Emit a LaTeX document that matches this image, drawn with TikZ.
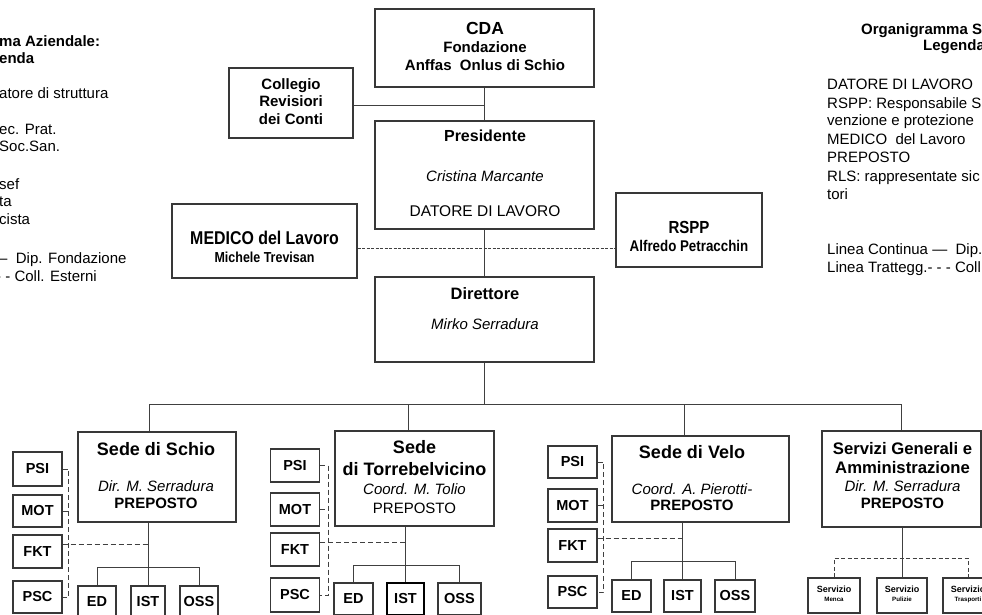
\documentclass[tikz,border=0pt]{standalone}
\usepackage{fontspec}
\setmainfont{Liberation Sans}
\newfontfamily\condsans[FakeStretch=0.86]{Liberation Sans}
\newcommand\fs[1]{\fontsize{#1}{#1}\selectfont}
\tikzset{
  box/.style={draw=black!78, line width=1.1pt, rectangle, inner sep=0pt, text=black},
  conn/.style={draw=black!75, line width=1pt},
  dsh/.style={conn, dash pattern=on 5pt off 3pt},
  finedsh/.style={conn, line width=0.8pt, dash pattern=on 3pt off 1.5pt},
  tx/.style={inner sep=0pt, anchor=mid, yshift=-3.5pt, text=black},
  lt/.style={inner sep=0pt, anchor=mid west, yshift=-3.5pt, text=black, font=\fs{15}},
  small/.style={box, minimum width=49pt, font=\fs{14.5}\bfseries},
  sub/.style={box, minimum height=32pt, font=\fs{14.5}\bfseries},
  serv/.style={box, minimum width=51pt, minimum height=35pt},
}
\begin{document}
\begin{tikzpicture}[x=1pt,y=-1pt]
\useasboundingbox (0,0) rectangle (982,615);
\clip (0,0) rectangle (982,615);
\fill[white] (0,0) rectangle (982,615);

% ---------- left legend (cut) ----------
\node[lt, font=\fs{15}\bfseries] (la) at (-1,40) {ma Aziendale:};
\node[lt, font=\fs{15}\bfseries] (lb) at (-1,57) {enda};
\node[lt] (lc) at (-1,92) {atore di struttura};
\node[lt] (ld) at (-1,128) {ec. Prat.};
\node[lt] (le) at (-1,145) {Soc.San.};
\node[lt] (lf) at (-1,183) {sef};
\node[lt] (lg) at (-1,200) {ta};
\node[lt] (lh) at (-1,218) {cista};
\node[lt] (li) at (-1,257) {–\ \ Dip. Fondazione};
\node[lt] (lj) at (-4,275) {- - Coll. Esterni};

% ---------- right legend (cut) ----------
\node[lt, font=\fs{15}\bfseries] (ra) at (861,28) {Organigramma S};
\node[lt, font=\fs{15}\bfseries] (rb) at (923,44) {Legenda};
\node[lt] (rc) at (827,83) {DATORE DI LAVORO};
\node[lt] (rd) at (827,102) {RSPP: Responsabile S};
\node[lt] (re) at (827,119) {venzione e protezione};
\node[lt] (rf) at (827,138) {MEDICO\ \ del Lavoro};
\node[lt] (rg) at (827,156) {PREPOSTO};
\node[lt] (rh) at (827,175) {RLS: rappresentate sic};
\node[lt] (ri) at (827,193) {tori};
\node[lt] (rj) at (827,248) {Linea Continua —\ \ Dip.};
\node[lt] (rk) at (827,266) {Linea Trattegg.- - - Coll};

% ---------- top boxes ----------
\node[box, minimum width=219pt, minimum height=78pt] (cda) at (484.5,48) {};
\node[box, minimum width=124pt, minimum height=70pt] (coll) at (291,103) {};
\node[box, minimum width=219pt, minimum height=108pt] (pres) at (484.5,175) {};
\node[box, minimum width=185pt, minimum height=74pt] (med) at (264.5,241) {};
\node[box, minimum width=146pt, minimum height=74pt] (rspp) at (689,230) {};
\node[box, minimum width=219pt, minimum height=85pt] (dir) at (484.5,319.5) {};

\node[tx, font=\fs{17.5}\bfseries] (cdaA) at (485,28) {CDA};
\node[tx, font=\fs{15}\bfseries] (cdaB) at (485,46) {Fondazione};
\node[tx, font=\fs{15}\bfseries] (cdaC) at (485,64) {Anffas\ \ Onlus di Schio};

\node[tx, font=\fs{15}\bfseries] (collA) at (291,83) {Collegio};
\node[tx, font=\fs{15}\bfseries] (collB) at (291,100) {Revisiori};
\node[tx, font=\fs{15}\bfseries] (collC) at (291,118) {dei Conti};

\node[tx, font=\fs{16}\bfseries] (presA) at (485,135) {Presidente};
\node[tx, font=\fs{15}\itshape] (presB) at (485,175) {Cristina Marcante};
\node[tx, font=\fs{15.5}] (presC) at (485,210) {DATORE DI LAVORO};

\node[tx, font=\condsans\fs{18.5}\bfseries] (medA) at (264.5,238) {MEDICO del Lavoro};
\node[tx, font=\condsans\fs{14.5}\bfseries] (medB) at (264.5,256) {Michele Trevisan};

\node[tx, font=\condsans\fs{17.5}\bfseries] (rsppA) at (689,227) {RSPP};
\node[tx, font=\condsans\fs{15.5}\bfseries] (rsppB) at (689,245) {Alfredo Petracchin};

\node[tx, font=\fs{16.5}\bfseries] (dirA) at (485,293) {Direttore};
\node[tx, font=\fs{15}\itshape] (dirB) at (485,323) {Mirko Serradura};

% ---------- top connectors ----------
\draw[conn] (cda) -- (pres);
\draw[conn] ([yshift=-3pt]coll.east) -- ([yshift=-3pt]coll.east -| cda.south);
\draw[conn] (pres) -- (dir);
\draw[finedsh] ([yshift=-7pt]med.east) -- ([yshift=-7pt]med.east -| rspp.west);

% ---------- sedi ----------
\node[box, minimum width=158pt, minimum height=90pt] (schio) at (157,477) {};
\node[box, minimum width=159pt, minimum height=95pt] (torre) at (414.5,478.5) {};
\node[box, minimum width=177pt, minimum height=86pt] (velo) at (700.5,479) {};
\node[box, minimum width=159pt, minimum height=96pt] (serv) at (901.5,479) {};

\node[tx, font=\fs{18}\bfseries] (schA) at (156,449) {Sede di Schio};
\node[tx, font=\fs{15}\itshape] (schB) at (156,485) {Dir. M. Serradura};
\node[tx, font=\fs{15}\bfseries] (schC) at (156,502) {PREPOSTO};

\node[tx, font=\fs{18}\bfseries] (torA) at (414.5,447) {Sede};
\node[tx, font=\fs{18}\bfseries] (torB) at (414.5,469) {di Torrebelvicino};
\node[tx, font=\fs{15}\itshape] (torC) at (414.5,488) {Coord. M. Tolio};
\node[tx, font=\fs{15}] (torD) at (414.5,507) {PREPOSTO};

\node[tx, font=\fs{18}\bfseries] (velA) at (692,452) {Sede di Velo};
\node[tx, font=\fs{15}\itshape] (velB) at (692,488) {Coord. A. Pierotti-};
\node[tx, font=\fs{15}\bfseries] (velC) at (692,504) {PREPOSTO};

\node[tx, font=\fs{16.7}\bfseries] (srvA) at (902.5,448) {Servizi Generali e};
\node[tx, font=\fs{16.7}\bfseries] (srvB) at (902.5,467) {Amministrazione};
\node[tx, font=\fs{15}\itshape] (srvC) at (902.5,485) {Dir. M. Serradura};
\node[tx, font=\fs{15}\bfseries] (srvD) at (902.5,502) {PREPOSTO};

% ---------- main bus ----------
\coordinate (bus) at (0,404);
\draw[conn] (dir.south) -- (dir.south |- bus);
\draw[conn] ([xshift=-8pt]schio.north) |- (serv.north |- bus) -- (serv.north);
\draw[conn] ([xshift=-6.5pt]torre.north) -- ([xshift=-6.5pt]torre.north |- bus);
\draw[conn] ([xshift=-16.5pt]velo.north) -- ([xshift=-16.5pt]velo.north |- bus);

% ---------- Schio group ----------
\node[small, minimum height=34pt] (psi1) at (37.5,469) {PSI};
\node[small, minimum height=32pt] (mot1) at (37.5,511) {MOT};
\node[small, minimum height=33pt] (fkt1) at (37.5,551.5) {FKT};
\node[small, minimum height=32pt] (psc1) at (37.5,597) {PSC};
\node[sub, minimum width=38pt] (ed1) at (97,602) {ED};
\node[sub, minimum width=34pt] (ist1) at (148,602) {IST};
\node[sub, minimum width=38pt] (oss1) at (199,602) {OSS};
\draw[conn] (schio.south -| ist1.north) -- (ist1.north);
\draw[conn] (ed1.north) -- ++(0,-18) -| (oss1.north);
\draw[dsh] (psi1.east) -- ++(6,0) |- (psc1.east);
\draw[dsh] (mot1.east) -- ++(6,0);
\draw[dsh] ([yshift=7pt]fkt1.east) -- ([yshift=7pt]fkt1.east -| ist1.north);

% ---------- Torrebelvicino group ----------
\node[small, minimum height=33pt] (psi2) at (295,465.5) {PSI};
\node[small, minimum height=33pt] (mot2) at (295,509.5) {MOT};
\node[small, minimum height=33pt] (fkt2) at (295,549.5) {FKT};
\node[small, minimum height=34pt] (psc2) at (295,595) {PSC};
\node[sub, minimum width=39pt] (ed2) at (353.5,599) {ED};
\node[sub, minimum width=37pt, line width=2pt, draw=black] (ist2) at (405.5,599) {IST};
\node[sub, minimum width=43pt] (oss2) at (459.5,599) {OSS};
\draw[conn] (torre.south -| ist2.north) -- (ist2.north);
\draw[conn] (ed2.north) -- ++(0,-17) -| (oss2.north);
\draw[dsh] (psi2.east) -- ++(8,0) |- (psc2.east);
\draw[dsh] (mot2.east) -- ++(8,0);
\draw[dsh] ([yshift=7pt]fkt2.east) -- ([yshift=7pt]fkt2.east -| ist2.north);

% ---------- Velo group ----------
\node[small, minimum height=32pt] (psi3) at (572.5,462) {PSI};
\node[small, minimum height=33pt] (mot3) at (572.5,505.5) {MOT};
\node[small, minimum height=33pt] (fkt3) at (572.5,545.5) {FKT};
\node[small, minimum height=32pt] (psc3) at (572.5,592) {PSC};
\node[sub, minimum width=39pt] (ed3) at (631.5,596) {ED};
\node[sub, minimum width=37pt] (ist3) at (682.5,596) {IST};
\node[sub, minimum width=40pt] (oss3) at (735,596) {OSS};
\draw[conn] (velo.south -| ist3.north) -- (ist3.north);
\draw[conn] (ed3.north) -- ++(0,-18) -| (oss3.north);
\draw[dsh] (psi3.east) -- ++(6,0) |- (psc3.east);
\draw[dsh] (mot3.east) -- ++(6,0);
\draw[dsh] ([yshift=7pt]fkt3.east) -- ([yshift=7pt]fkt3.east -| ist3.north);

% ---------- Servizi group ----------
\node[serv, minimum width=52pt] (men) at (834,595.5) {};
\node[serv, minimum width=50pt] (pul) at (902,595.5) {};
\node[serv, minimum width=50pt] (tra) at (968,595.5) {};
\foreach \n/\w in {men/Menca, pul/Pulizie, tra/Trasporti}{
  \node[tx, font=\fs{9}\bfseries] (\n A) at ([yshift=-9pt]\n.north) {Servizio};
  \node[tx, font=\fs{6.2}\bfseries] (\n B) at ([yshift=-18pt]\n.north) {\w};
}
\draw[conn] (serv.south -| pul.north) -- (pul.north);
\draw[dsh, dash pattern=on 4pt off 2.5pt] (men.north) -- ++(0,-19) -| (tra.north);
\end{tikzpicture}
\end{document}
